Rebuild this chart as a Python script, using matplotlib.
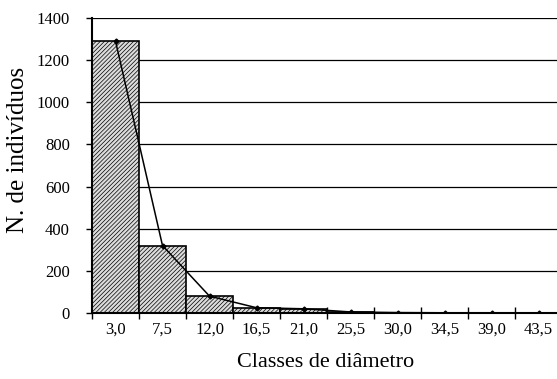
import numpy as np
import matplotlib
matplotlib.use("Agg")
import matplotlib.pyplot as plt

matplotlib.rcParams["font.family"] = ["Liberation Serif", "DejaVu Serif"]
matplotlib.rcParams["hatch.linewidth"] = 0.5
matplotlib.rcParams["hatch.color"] = "#6a6a6a"

# dados
classes = ["3,0", "7,5", "12,0", "16,5", "21,0", "25,5", "30,0", "34,5", "39,0", "43,5"]
individuos = [1290, 320, 80, 25, 20, 5, 2, 1, 0, 0]

x = np.arange(len(classes))

fig = plt.figure(figsize=(5.57, 3.79), dpi=100)
ax = fig.add_axes([92 / 557, 1 - 313 / 379, 470 / 557, 295 / 379])

ax.bar(x, individuos, width=1.0, facecolor="#dcdcdc", edgecolor="black",
       linewidth=1.2, hatch="////////", zorder=2)
ax.plot(x, individuos, color="black", linewidth=1.1, marker="D",
        markersize=2.5, zorder=4)

ax.set_xlim(-0.5, len(classes) - 0.5)
ax.set_ylim(0, 1400)
ax.set_yticks(np.arange(0, 1401, 200))
ax.yaxis.grid(True, color="black", linewidth=0.9, zorder=0)
ax.set_axisbelow(True)

ax.set_xticks(x)
ax.set_xticklabels(classes)
ax.set_xticks(np.arange(-0.5, len(classes), 1.0), minor=True)
ax.tick_params(axis="x", which="major", length=0, pad=6, labelsize=12)
ax.tick_params(axis="x", which="minor", direction="inout", length=8, width=1)
ax.tick_params(axis="y", direction="out", length=4, width=1, pad=12, labelsize=12)

for s in ["top", "right"]:
    ax.spines[s].set_visible(False)
ax.spines["left"].set_linewidth(1.5)
ax.spines["bottom"].set_linewidth(1.5)
ax.spines["bottom"].set_zorder(5)

fig.text(18 / 557, 1 - 150 / 379, "N. de indivíduos", rotation=90,
         ha="center", va="center", fontsize=18)
fig.text(326 / 557, 1 - 367 / 379, "Classes de diâmetro",
         ha="center", va="baseline", fontsize=16)

fig.savefig("out.png", dpi=100)
